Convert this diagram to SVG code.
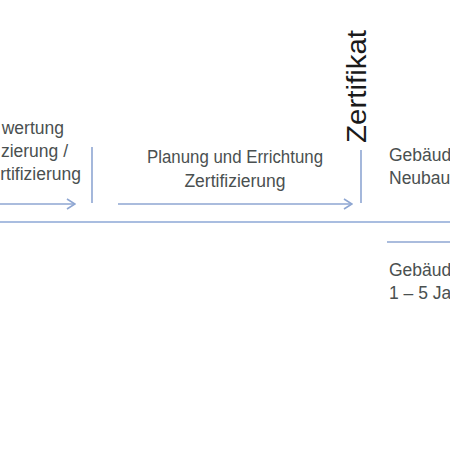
<svg xmlns="http://www.w3.org/2000/svg" width="450" height="450" viewBox="0 0 450 450">
<defs>
<style>
.t{font-family:"Liberation Sans",Arial,sans-serif;font-size:17.5px;fill:#4a5050}
.z{font-family:"Liberation Sans",Arial,sans-serif;font-size:27px;fill:#1a1a1a}
.ln{stroke:#8ea6d2;stroke-width:1.6;fill:none}
.lt{stroke:#a9bde0;stroke-width:2;fill:none}
</style>
<marker id="ah" viewBox="0 0 10 12" refX="9" refY="6" markerWidth="10" markerHeight="12" markerUnits="userSpaceOnUse" orient="auto">
<path d="M1,1 L9,6 L1,11" fill="none" stroke="#8ea6d2" stroke-width="1.6"/>
</marker>
</defs>
<rect width="450" height="450" fill="#ffffff"/>
<g id="connectors">
<line class="ln" x1="0" y1="204" x2="75" y2="204" marker-end="url(#ah)"/>
<line class="ln" x1="118" y1="204" x2="352" y2="204" marker-end="url(#ah)"/>
<line class="ln" x1="92" y1="147" x2="92" y2="203"/>
<line class="ln" x1="361" y1="150" x2="361" y2="203"/>
<line class="lt" x1="0" y1="222" x2="450" y2="222"/>
<line class="ln" x1="387" y1="242" x2="450" y2="242"/>
</g>
<g id="node-left">
<text class="t" x="64" y="134" text-anchor="end">wertung</text>
<text class="t" x="68" y="157" text-anchor="end">zierung /</text>
<text class="t" x="81" y="180" text-anchor="end">rtifizierung</text>
</g>
<g id="node-middle">
<text class="t" x="235" y="163" text-anchor="middle" textLength="176" lengthAdjust="spacingAndGlyphs">Planung und Errichtung</text>
<text class="t" x="235" y="187" text-anchor="middle">Zertifizierung</text>
</g>
<g id="node-zertifikat">
<text class="z" transform="translate(366,143) rotate(-90)" textLength="113" lengthAdjust="spacingAndGlyphs">Zertifikat</text>
</g>
<g id="node-right-top">
<text class="t" x="389" y="161">Gebäude</text>
<text class="t" x="389" y="184">Neubau:</text>
</g>
<g id="node-right-bottom">
<text class="t" x="389" y="276">Gebäude</text>
<text class="t" x="389" y="299">1 – 5 Jahre</text>
</g>
</svg>
